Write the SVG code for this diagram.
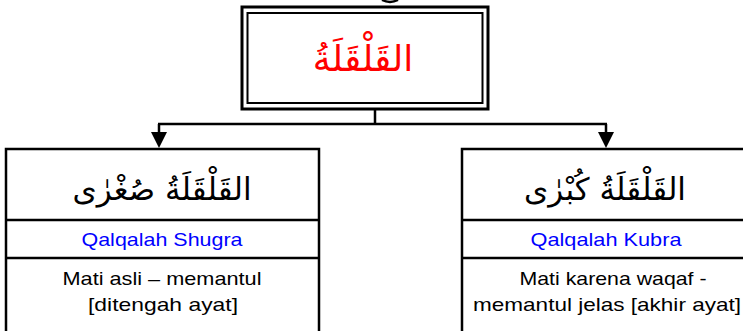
<svg xmlns="http://www.w3.org/2000/svg" width="743" height="331" viewBox="0 0 743 331">
<defs>
<style>
.box{fill:#fff;stroke:#000;stroke-width:2.5}
.ln{stroke:#000;stroke-width:2.5;fill:none}
.ar{font-family:"DejaVu Sans",sans-serif;text-anchor:middle;fill:#000}
.lat{font-family:"Liberation Sans","DejaVu Sans",sans-serif;text-anchor:middle;font-size:19px;fill:#000}
.blue{fill:#0000ff}
.head{fill:#000}
</style>
</defs>
<rect width="743" height="331" fill="#fff"/>
<path d="M382,0 Q390,4 398,0" fill="none" stroke="#000" stroke-width="2.5"/>
<g id="connectors">
<path class="ln" d="M375,109 V124 M158,124 H607 M159,124 V134 M606,124 V134"/>
<polygon class="head" points="151,132 167,132 159,148"/>
<polygon class="head" points="598,132 614,132 606,148"/>
</g>
<g id="node-top">
<rect x="242" y="7" width="246" height="102" fill="#fff" stroke="#000" stroke-width="3"/>
<rect x="247.5" y="13" width="235" height="90" fill="none" stroke="#000" stroke-width="2"/>
<text class="ar" x="363" y="71" font-size="36" style="fill:#ff0000">القَلْقَلَةُ</text>
</g>
<g id="node-left">
<rect class="box" x="6" y="149" width="313" height="200"/>
<line class="ln" x1="6" y1="220" x2="319" y2="220"/>
<line class="ln" x1="6" y1="258" x2="319" y2="258"/>
<text class="ar" x="162" y="200" font-size="31">القَلْقَلَةُ صُغْرٰى</text>
<text class="lat blue" x="162" y="246" textLength="161" lengthAdjust="spacingAndGlyphs">Qalqalah Shugra</text>
<text class="lat" x="162" y="285" textLength="199" lengthAdjust="spacingAndGlyphs">Mati asli – memantul</text>
<text class="lat" x="163" y="311" textLength="150" lengthAdjust="spacingAndGlyphs">[ditengah ayat]</text>
</g>
<g id="node-right">
<rect class="box" x="462" y="149" width="300" height="200"/>
<line class="ln" x1="462" y1="220" x2="743" y2="220"/>
<line class="ln" x1="462" y1="258" x2="743" y2="258"/>
<text class="ar" x="605" y="200" font-size="31">القَلْقَلَةُ كُبْرٰى</text>
<text class="lat blue" x="606" y="246" textLength="151" lengthAdjust="spacingAndGlyphs">Qalqalah Kubra</text>
<text class="lat" x="613" y="285" textLength="187" lengthAdjust="spacingAndGlyphs">Mati karena waqaf -</text>
<text class="lat" x="607" y="311" textLength="268" lengthAdjust="spacingAndGlyphs">memantul jelas [akhir ayat]</text>
</g>
</svg>
